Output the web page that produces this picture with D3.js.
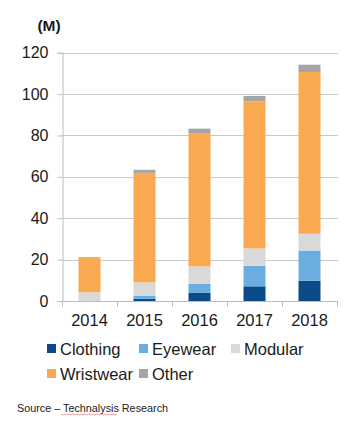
<!DOCTYPE html>
<html>
<head>
<meta charset="utf-8">
<script src="https://cdn.jsdelivr.net/npm/d3@7/dist/d3.min.js"></script>
<style>
  html, body { margin: 0; padding: 0; background: #ffffff; }
  svg { display: block; font-family: "Liberation Sans", Arial, sans-serif; }
</style>
</head>
<body>
<svg id="chart" width="347" height="428"></svg>
<script>
const years = ["2014", "2015", "2016", "2017", "2018"];
const seriesNames = ["Clothing", "Eyewear", "Modular", "Wristwear", "Other"];
const clothing  = [0,   1.0, 3.9, 7.1, 9.8];
const eyewear   = [0,   1.5, 4.5, 9.9, 14.6];
const modular   = [4.2, 6.5, 8.3, 8.4, 8.1];
const wristwear = [17,  52.9, 64.2, 71.1, 78.2];
const other     = [0,   1.5, 2.4, 2.6, 3.5];
const yTicks = [0, 20, 40, 60, 80, 100, 120];
const colors = ["#0b4b87", "#6aade0", "#d9d9d9", "#f9aa50", "#a5a5a5"];

const seriesValues = [clothing, eyewear, modular, wristwear, other];
const rows = years.map((y, i) => {
  const r = { year: y };
  seriesNames.forEach((s, k) => r[s] = seriesValues[k][i]);
  return r;
});

const svg = d3.select("#chart");
const x = d3.scaleBand().domain(years).range([62, 337]).paddingInner(0.6).paddingOuter(0.3);
const y = d3.scaleLinear().domain([0, 120]).range([301, 52.7]);

// gridlines
svg.append("g").selectAll("line").data(yTicks.filter(t => t > 0)).join("line")
  .attr("x1", 62).attr("x2", 338)
  .attr("y1", d => Math.round(y(d)) + 0.5).attr("y2", d => Math.round(y(d)) + 0.5)
  .attr("stroke", "#c9c9c9").attr("stroke-width", 1);

// y axis
const yAxis = svg.append("g").attr("transform", "translate(62.5,0)")
  .call(d3.axisLeft(y).tickValues(yTicks).tickSize(5).tickPadding(9).tickFormat(d3.format("d")));
yAxis.select(".domain").attr("stroke", "#bdbdbd");
yAxis.selectAll(".tick line").attr("stroke", "#bdbdbd");
yAxis.selectAll(".tick text").attr("fill", "#1a1a1a").attr("font-size", 16)
  .attr("font-family", "Liberation Sans, Arial, sans-serif");

// stacked bars
const stack = d3.stack().keys(seriesNames)(rows);
svg.append("g").selectAll("g").data(stack).join("g")
  .attr("fill", (d, i) => colors[i])
  .selectAll("rect").data(d => d).join("rect")
  .attr("x", d => x(d.data.year))
  .attr("width", x.bandwidth())
  .attr("y", d => y(d[1]))
  .attr("height", d => Math.max(0, y(d[0]) - y(d[1])));

// x axis
const xAxis = svg.append("g").attr("transform", "translate(0,301.5)")
  .call(d3.axisBottom(x).tickSize(0).tickPadding(13));
xAxis.select(".domain").attr("stroke", "#bdbdbd").attr("d", "M62,0H338");
xAxis.selectAll(".tick text").attr("fill", "#1a1a1a").attr("font-size", 16.5)
  .attr("font-family", "Liberation Sans, Arial, sans-serif");
// category boundary ticks
const bounds = years.map(yr => x(yr) - x.step() * x.paddingInner() / 2).concat([337]);
xAxis.append("g").selectAll("line").data(bounds).join("line")
  .attr("x1", d => Math.round(d) + 0.5).attr("x2", d => Math.round(d) + 0.5)
  .attr("y1", 0).attr("y2", 5).attr("stroke", "#bdbdbd");

// unit label
svg.append("text").attr("x", 49).attr("y", 31).attr("text-anchor", "middle")
  .attr("font-size", 15.5).attr("font-weight", "bold").attr("fill", "#1a1a1a").text("(M)");

// legend
const legendPos = [
  { x: 47, y: 355 }, { x: 139, y: 355 }, { x: 231, y: 355 },
  { x: 47, y: 380 }, { x: 139, y: 380 }
];
const lg = svg.append("g").selectAll("g").data(seriesNames).join("g")
  .attr("transform", (d, i) => `translate(${legendPos[i].x},${legendPos[i].y})`);
lg.append("rect").attr("x", 0).attr("y", -11).attr("width", 9).attr("height", 9)
  .attr("fill", (d, i) => colors[i]);
lg.append("text").attr("x", 13).attr("y", 0).attr("font-size", 16.5).attr("fill", "#1a1a1a").text(d => d);

// source
svg.append("text").attr("x", 17).attr("y", 412).attr("font-size", 10.8).attr("fill", "#222")
  .text("Source \u2013 Technalysis Research");
// spell-check squiggle under "Technalysis"
const sq = d3.range(61, 119, 2).map((px, i) => [px, 414 + (i % 2 ? 1 : 0)]);
svg.append("path").attr("d", d3.line()(sq)).attr("fill", "none")
  .attr("stroke", "#e06060").attr("stroke-width", 0.6);
</script>
</body>
</html>
